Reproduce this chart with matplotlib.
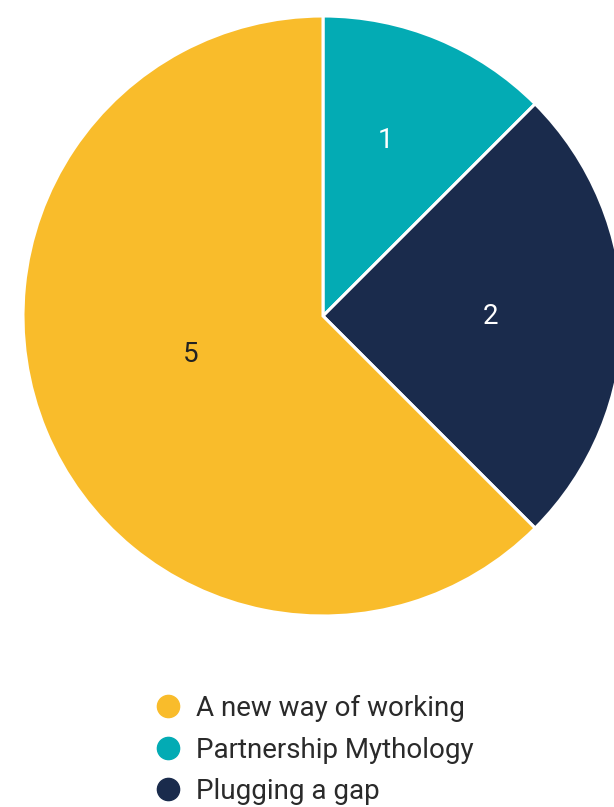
import numpy as np
import matplotlib.pyplot as plt
from matplotlib.lines import Line2D

plt.rcParams['font.family'] = ['Roboto', 'DejaVu Sans']

labels = ['Partnership Mythology', 'Plugging a gap', 'A new way of working']
values = [1, 2, 5]
colors = ['#03abb4', '#1a2b4c', '#f9bc2b']
text_colors = ['white', 'white', '#222222']
label_dist = [0.62, 0.56, 0.46]   # how far out each number sits
label_shift = [2.8, 0, -6.2]      # degrees, tweak for number placement

legend_order = ['A new way of working', 'Partnership Mythology', 'Plugging a gap']

fig = plt.figure(figsize=(6.14, 8.07), dpi=100)
ax = fig.add_axes([0, 0, 1, 1])

cx, cy, r = 323, 807 - 316, 300
wedges, _ = ax.pie(values, colors=colors, startangle=90, counterclock=False,
                   center=(cx, cy), radius=r,
                   wedgeprops=dict(edgecolor='white', linewidth=2.2))

for w, v, d, s, tc in zip(wedges, values, label_dist, label_shift, text_colors):
    ang = np.deg2rad((w.theta1 + w.theta2) / 2 + s)
    ax.text(cx + d * r * np.cos(ang), cy + d * r * np.sin(ang), str(v),
            ha='center', va='center', fontsize=20, color=tc)

ax.set_xlim(0, 614)
ax.set_ylim(0, 807)
ax.set_aspect('equal')
ax.axis('off')

handles = []
for name in legend_order:
    c = colors[labels.index(name)]
    handles.append(Line2D([], [], marker='o', linestyle='', markersize=16,
                          markerfacecolor=c, markeredgecolor=c))
fig.legend(handles, legend_order, loc='upper left', bbox_to_anchor=(140 / 614, 1 - 684 / 807),
           frameon=False, fontsize=20, handletextpad=0.4, labelspacing=0.52,
           handlelength=1.2, labelcolor='#2a2a2a', borderaxespad=0)

fig.savefig('out.png', dpi=100)
